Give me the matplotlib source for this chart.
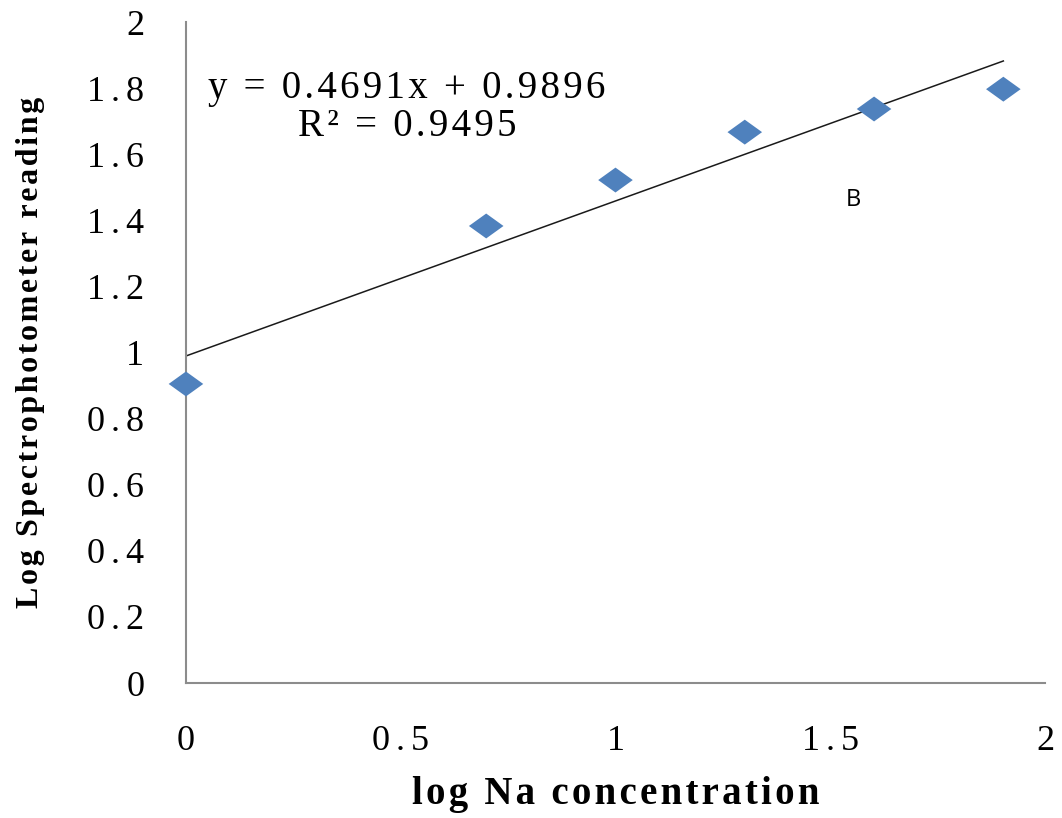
import numpy as np
import matplotlib.pyplot as plt
from matplotlib.path import Path

# log Na concentration (x) vs log spectrophotometer reading (y)
log_na = [0.0, 0.699, 1.0, 1.301, 1.602, 1.903]
log_reading = [0.905, 1.383, 1.522, 1.667, 1.737, 1.797]
slope, intercept = 0.4691, 0.9896
r2 = 0.9495

xticks = [0, 0.5, 1, 1.5, 2]
xlabels = ['0', '0.5', '1', '1.5', '2']
yticks = [0, 0.2, 0.4, 0.6, 0.8, 1, 1.2, 1.4, 1.6, 1.8, 2]
ylabels = ['0', '0.2', '0.4', '0.6', '0.8', '1', '1.2', '1.4', '1.6', '1.8', '2']

plt.rcParams['font.family'] = ['Liberation Serif', 'DejaVu Serif']

HAIR = '\u200a'


def spaced(s, sep=HAIR):
    # the original text is letter-spaced, fake it with hair spaces
    return sep.join(s)


fig = plt.figure(figsize=(10.62, 8.18), dpi=100)
ax = fig.add_axes([0.1751, 0.165, 0.8089, 0.808])

# squashed diamond like the excel marker
diamond = Path([(-1, 0), (0, 0.72), (1, 0), (0, -0.72), (-1, 0)],
               [Path.MOVETO, Path.LINETO, Path.LINETO, Path.LINETO, Path.CLOSEPOLY])
ax.scatter(log_na, log_reading, marker=diamond, s=620, color='#4F81BD',
           edgecolor='none', zorder=3, clip_on=False)

xs = np.array([log_na[0], log_na[-1]])
ax.plot(xs, slope * xs + intercept, color='#1a1a1a', lw=1.1, zorder=2)

ax.set_xlim(0, 2)
ax.set_ylim(0, 2)
ax.set_xticks(xticks)
ax.set_xticklabels([spaced(l, HAIR * 2) for l in xlabels])
ax.set_yticks(yticks)
ax.set_yticklabels([spaced(l, HAIR * 2) for l in ylabels])
ax.tick_params(length=0, labelsize=26, pad=30)

for s in ['top', 'right']:
    ax.spines[s].set_visible(False)
for s in ['left', 'bottom']:
    ax.spines[s].set_color('#8c8c8c')
    ax.spines[s].set_linewidth(1.5)

ax.set_xlabel(spaced('log Na concentration'), fontsize=28, fontweight='bold', labelpad=13)
ax.set_ylabel(spaced('Log Spectrophotometer reading'), fontsize=23,
              fontweight='bold', labelpad=30)

eq = spaced('y = %.4fx + %.4f' % (slope, intercept)) + '\n' + spaced('R² = %.4f' % r2)
ax.text(0.515, 1.741, eq, fontsize=28, ha='center', va='center',
        multialignment='center', linespacing=1.05)
ax.text(1.553, 1.461, 'B', fontsize=17, family=['Open Sans', 'DejaVu Sans'],
        ha='center', va='center')

fig.savefig('out.png', dpi=100)
